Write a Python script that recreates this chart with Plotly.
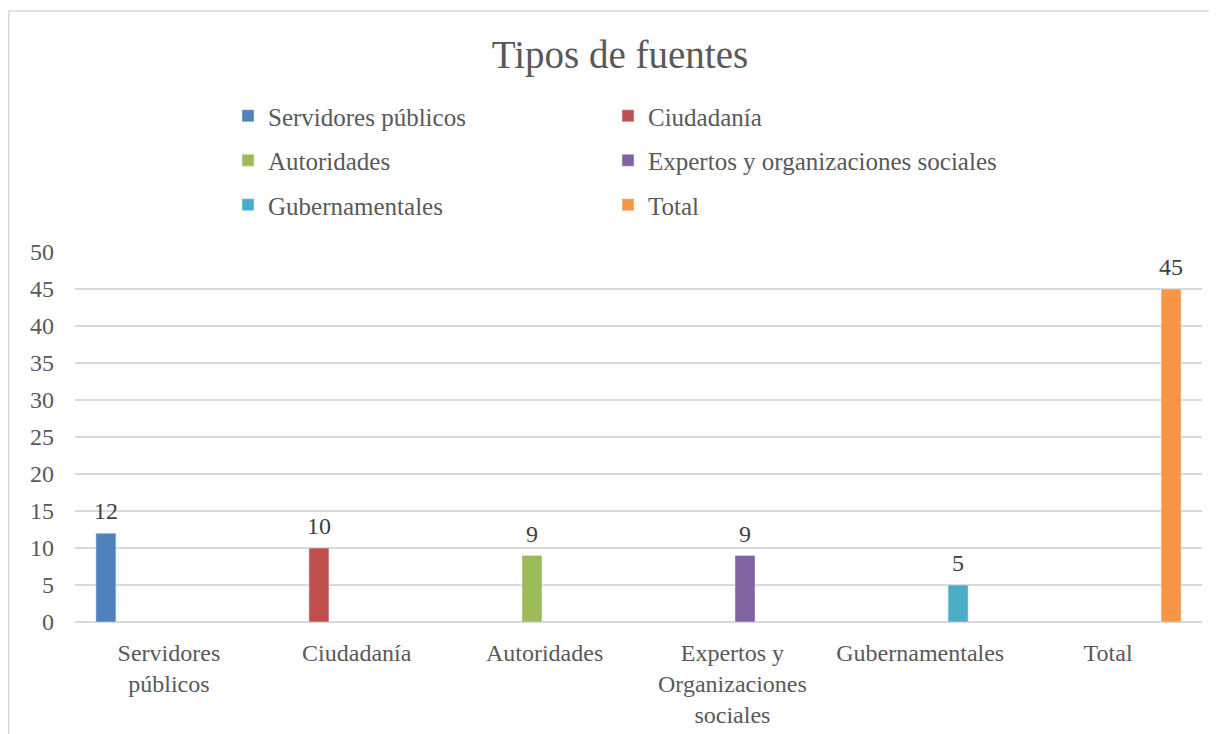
import plotly.graph_objects as go

categories = ["Servidores<br>públicos", "Ciudadanía", "Autoridades",
              "Expertos y<br>Organizaciones<br>sociales", "Gubernamentales", "Total"]
series_names = ["Servidores públicos", "Ciudadanía", "Autoridades",
                "Expertos y organizaciones sociales", "Gubernamentales", "Total"]
values = [12, 10, 9, 9, 5, 45]
colors = ["#4F81BD", "#C0504D", "#9BBB59", "#8064A2", "#4BACC6", "#F79646"]

# page has an 8px body margin, so figure coords = page coords - 8
OFF = 8
W, H = 1217 - OFF, 734 - OFF
ML, MR, MT, MB = 75 - OFF, 15, 252 - OFF, 112
FONT = "Liberation Serif"
TXT = "#595959"
GAP = 0.195

fig = go.Figure()
legend_ids = ["legend", "legend2", "legend", "legend2", "legend", "legend2"]
for i, (name, cat, v, c) in enumerate(zip(series_names, categories, values, colors)):
    fig.add_trace(go.Bar(
        x=[cat], y=[v], name=name, marker_color=c,
        offsetgroup=str(i), legendgroup=str(i),
        cliponaxis=False, legend=legend_ids[i],
    ))
# data labels, grouped the same way as the bars
for i, (cat, v) in enumerate(zip(categories, values)):
    fig.add_trace(go.Scatter(
        x=[cat], y=[v], mode="markers+text", text=[str(v)],
        textposition="top center", offsetgroup=str(i),
        marker=dict(size=11, opacity=0), showlegend=False, hoverinfo="skip",
        textfont=dict(family=FONT, size=24, color="#404040"), cliponaxis=False,
    ))

pw = W - ML - MR
ph = H - MT - MB
def px2x(px):
    return (px - OFF - ML) / pw
def py2y(py):
    return (H - MB - (py - OFF)) / ph

leg_common = dict(orientation="v", xanchor="left", yanchor="top",
                  traceorder="grouped", tracegroupgap=9,
                  font=dict(family=FONT, size=25, color=TXT),
                  bgcolor="rgba(0,0,0,0)", borderwidth=0)
fig.update_layout(
    width=W, height=H,
    margin=dict(l=ML, r=MR, t=MT, b=MB, autoexpand=False),
    paper_bgcolor="white", plot_bgcolor="white",
    title=dict(text="Tipos de fuentes", xref="paper", x=px2x(620), xanchor="center",
               yref="container", y=1 - (54 - OFF) / H, yanchor="middle",
               font=dict(family=FONT, size=39, color=TXT)),
    barmode="group", bargap=GAP, bargroupgap=0.206,
    scattermode="group", scattergap=GAP,
    showlegend=True,
    legend=dict(x=px2x(228), y=py2y(93), **leg_common),
    legend2=dict(x=px2x(608), y=py2y(93), **leg_common),
    xaxis=dict(showgrid=False, showline=False, ticks="", ticklabelstandoff=14,
               automargin=False,
               tickfont=dict(family=FONT, size=24, color=TXT)),
    yaxis=dict(range=[0, 50], dtick=5, showgrid=True, gridcolor="#D9D9D9",
               gridwidth=1.5, zeroline=True, zerolinecolor="#D9D9D9", zerolinewidth=1.5,
               showline=False, ticks="", ticklabelstandoff=20, automargin=False,
               tickfont=dict(family=FONT, size=24, color=TXT)),
    shapes=[
        dict(type="line", xref="paper", yref="paper", x0=px2x(8.75), x1=px2x(8.75),
             y0=py2y(11), y1=py2y(740), line=dict(color="#D9D9D9", width=1.5), layer="below"),
        dict(type="line", xref="paper", yref="paper", x0=px2x(8), x1=px2x(1220),
             y0=py2y(11), y1=py2y(11), line=dict(color="#D9D9D9", width=1.5), layer="below"),
    ],
)

fig.write_html("out.html")
